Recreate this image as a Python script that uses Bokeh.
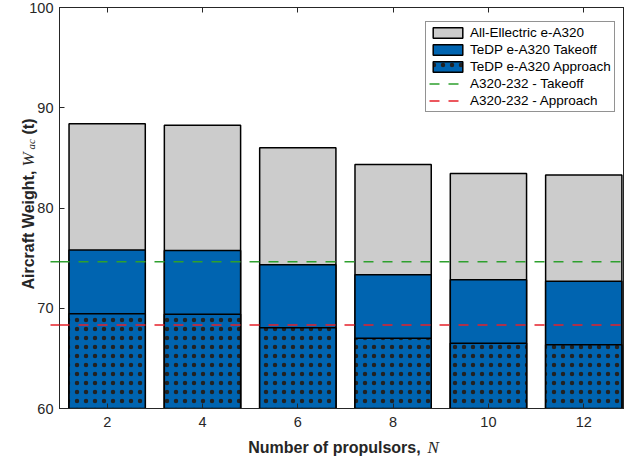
import math
from bokeh.plotting import figure
from bokeh.layouts import column
from bokeh.models import (ColumnDataSource, Legend, LegendItem, Label, FixedTicker,
                          LinearAxis, Range1d)
from bokeh.embed import file_html
from bokeh.resources import INLINE

# ---- data ----
propulsors = [2, 4, 6, 8, 10, 12]
all_electric = [88.4, 88.25, 86.0, 84.35, 83.45, 83.3]
tedp_takeoff = [75.8, 75.75, 74.35, 73.35, 72.85, 72.7]
tedp_approach = [69.45, 69.4, 68.05, 67.0, 66.5, 66.35]
a320_takeoff = 74.65
a320_approach = 68.33
y_ticks = [60, 70, 80, 90, 100]
x_ticks = [2, 4, 6, 8, 10, 12]

X_MIN, X_MAX = 1, 12.855
Y_MIN, Y_MAX = 60, 100
BAR_W = 1.6
LINE_X0 = 0.811  # reference lines start a little left of the axis

GRAY = "#CCCCCC"
BLUE = "#0064B0"
GREEN = "#2EA02E"
RED = "#E6202A"
AXC = "#262626"

W, H = 624, 458
FL, FR, FT, FB = 59, 624, 7, 408          # frame edges in pixels
UX = (X_MAX - X_MIN) / (FR - FL)
UY = (Y_MAX - Y_MIN) / (FB - FT)
def dx(px):
    return X_MIN + (px - FL) * UX
def dy(py):
    return Y_MIN + (FB - py) * UY

src = ColumnDataSource(dict(x=propulsors, total=all_electric, to=tedp_takeoff,
                            ap=tedp_approach, base=[Y_MIN] * len(propulsors)))

p = figure(width=W, height=H, output_backend="svg", toolbar_location=None,
           x_range=Range1d(X_MIN, X_MAX), y_range=Range1d(Y_MIN, Y_MAX),
           min_border_left=FL, min_border_right=W - FR, min_border_top=FT,
           min_border_bottom=H - FB,
           background_fill_color="white", background_fill_alpha=0,
           border_fill_color="white", border_fill_alpha=0,
           outline_line_color=AXC, outline_line_width=1)
p.xgrid.visible = False
p.ygrid.visible = False

r_gray = p.vbar(x="x", width=BAR_W, bottom="base", top="total", source=src,
                fill_color=GRAY, line_color="black", line_width=1.5)
r_blue = p.vbar(x="x", width=BAR_W, bottom="base", top="to", source=src,
                fill_color=BLUE, line_color="black", line_width=1.5)
r_dot = p.vbar(x="x", width=BAR_W, bottom="base", top="ap", source=src,
               fill_color=BLUE, line_color="black", line_width=1.5,
               hatch_pattern="dot", hatch_color="#222222", hatch_scale=9, hatch_weight=1)

r_g = p.line(x=[X_MIN, X_MAX], y=[a320_takeoff, a320_takeoff], line_color=GREEN,
             line_width=1.5, line_dash="10 9")
r_r = p.line(x=[X_MIN, X_MAX], y=[a320_approach, a320_approach], line_color=RED,
             line_width=1.5, line_dash="10 9")

# axes
for ax in (p.xaxis[0], p.yaxis[0]):
    ax.major_tick_in = 5
    ax.major_tick_out = 0
    ax.minor_tick_line_color = None
    ax.axis_line_color = AXC
    ax.major_tick_line_color = AXC
    ax.major_label_text_color = AXC
    ax.major_label_text_font = "Liberation Sans"
    ax.major_label_text_font_size = "14.5px"
p.xaxis[0].ticker = FixedTicker(ticks=x_ticks)
p.yaxis[0].ticker = FixedTicker(ticks=y_ticks)
p.xaxis[0].major_label_standoff = 8
p.yaxis[0].major_label_standoff = 6

top = LinearAxis(ticker=FixedTicker(ticks=x_ticks), major_tick_in=5, major_tick_out=0,
                 minor_tick_line_color=None, axis_line_color=AXC, major_tick_line_color=AXC,
                 major_label_text_font_size="0px", major_label_standoff=0,
                 major_label_overrides={t: "" for t in x_ticks})
p.add_layout(top, "above")

legend = Legend(items=[
    LegendItem(label="All-Ellectric e-A320", renderers=[r_gray]),
    LegendItem(label="TeDP e-A320 Takeoff", renderers=[r_blue]),
    LegendItem(label="TeDP e-A320 Approach", renderers=[r_dot]),
    LegendItem(label="A320-232 - Takeoff", renderers=[r_g]),
    LegendItem(label="A320-232 - Approach", renderers=[r_r]),
], location=(425 - FL, FB - 112), border_line_color=AXC, border_line_width=1,
   background_fill_color="white", background_fill_alpha=1,
   label_text_font="Liberation Sans", label_text_font_size="13.5px", label_text_color="black",
   glyph_width=37, glyph_height=13, label_height=13,
   spacing=2, padding=3, label_standoff=4, margin=0)
p.add_layout(legend, "center")

# transparent full-canvas twin on top, sharing the same data mapping, for the
# axis titles and the short line stubs left of the axis (not clipped there)
ov = figure(width=W, height=H, output_backend="svg", toolbar_location=None,
            x_range=Range1d(dx(0), dx(W)), y_range=Range1d(dy(H), dy(0)),
            min_border=0, x_axis_location=None, y_axis_location=None,
            background_fill_alpha=0, border_fill_alpha=0, outline_line_color=None,
            margin=(-H, 0, 0, 0))
ov.xgrid.visible = False
ov.ygrid.visible = False
for fig in (p, ov):
    if "frame_align" in fig.properties():
        fig.frame_align = False

ov.line(x=[LINE_X0, X_MIN], y=[a320_takeoff, a320_takeoff], line_color=GREEN,
        line_width=1.5, line_dash="10 9")
ov.line(x=[LINE_X0, X_MIN], y=[a320_approach, a320_approach], line_color=RED,
        line_width=1.5, line_dash="10 9")

def lab(text, px, py, font, size, style, angle=0.0):
    ov.add_layout(Label(x=dx(px), y=dy(py), text=text,
                        text_font=font, text_font_size=size, text_font_style=style,
                        text_color=AXC, angle=angle, text_align="left",
                        text_baseline="alphabetic"))

lab("Number of propulsors,", 247.7, 447, "Liberation Sans", "16px", "bold")
lab("N", 427, 447, "Liberation Serif", "17px", "italic")
A = math.pi / 2
lab("Aircraft Weight,", 28, 289, "Liberation Sans", "16px", "bold", A)
lab("W", 28, 166, "Liberation Serif", "17px", "italic", A)
lab("ac", 30.5, 149, "Liberation Serif", "11px", "italic", A)
lab("(t)", 28, 134, "Liberation Sans", "16px", "bold", A)

open("out.html", "w").write(file_html(column(p, ov), INLINE))
